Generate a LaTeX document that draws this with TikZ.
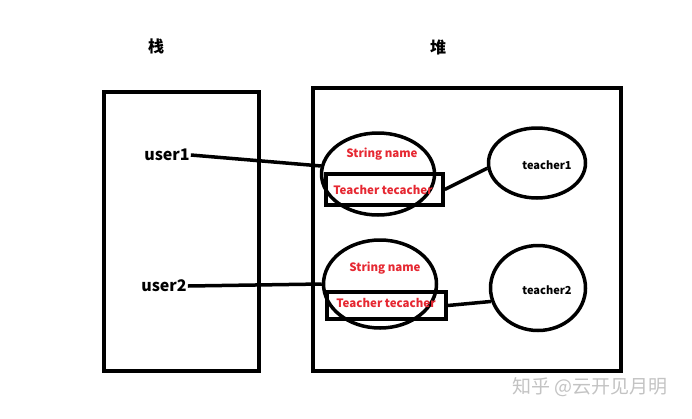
\documentclass[tikz,border=0pt]{standalone}
\usepackage{fontspec}
\newfontfamily\cjk{Noto Sans CJK SC}
\usetikzlibrary{shapes.geometric}
\definecolor{txtred}{RGB}{230,40,50}
\definecolor{wmgray}{RGB}{195,195,195}
\tikzset{
  box/.style={draw, line width=4pt},
  oval/.style={draw, ellipse, line width=3.5pt, inner sep=0pt},
  fld/.style={draw, line width=3.5pt, inner sep=0pt},
  link/.style={line width=3.5pt},
  title/.style={font=\cjk\bfseries\fontsize{16}{18}\selectfont},
  var/.style={font=\cjk\bfseries\fontsize{16}{18}\selectfont, inner sep=1pt},
  red/.style={text=txtred, font=\cjk\bfseries\fontsize{11.5}{13}\selectfont},
  obj/.style={font=\cjk\bfseries\fontsize{11}{13}\selectfont},
}
\begin{document}
\begin{tikzpicture}[x=1pt,y=-1pt]
\useasboundingbox[fill=white] (0,0) rectangle (692,418);
% titles
\node[title] (tz) at (156,46) {栈};
\node[title] (td) at (438,47) {堆};
% frames
\node[box, minimum width=155pt, minimum height=279pt, inner sep=0pt] (stack) at (181.5,231.5) {};
\node[box, minimum width=308pt, minimum height=283pt, inner sep=0pt] (heap) at (467,229.5) {};
% variables
\node[var] (u1) at (167,155) {user1};
\node[var] (u2) at (164,286) {user2};
% objects
\node[oval, minimum width=113pt, minimum height=82pt] (e1) at (378,174) {};
\node[fld, minimum width=117pt, minimum height=31pt] (r1) at (384.5,189.5) {};
\node[red] (s1) at (382,154) {String name};
\node[red] (c1) at (383,190) {Teacher tecacher};
\node[oval, minimum width=113pt, minimum height=88pt] (e2) at (380,284) {};
\node[fld, minimum width=119pt, minimum height=27pt] (r2) at (386.5,305.5) {};
\node[red] (s2) at (385,268) {String name};
\node[red] (c2) at (386,303) {Teacher tecacher};
% teachers
\node[oval, minimum width=97pt, minimum height=70pt] (t1) at (537,163) {};
\node[obj] (n1) at (547,165) {teacher1};
\node[oval, minimum width=95pt, minimum height=85pt] (t2) at (538,288) {};
\node[obj] (n2) at (547,290) {teacher2};
% connectors
\draw[link] (u1.east) -- (e1.172);
\draw[link] (u2.east) -- (e2.180);
\draw[link] (r1.east) -- (t1.186);
\draw[link] (r2.east) -- (t2.196);
% watermark
\node[text=wmgray, font=\cjk\fontsize{19}{22}\selectfont] (wm) at (590,387) {知乎 @云开见月明};
\end{tikzpicture}
\end{document}
